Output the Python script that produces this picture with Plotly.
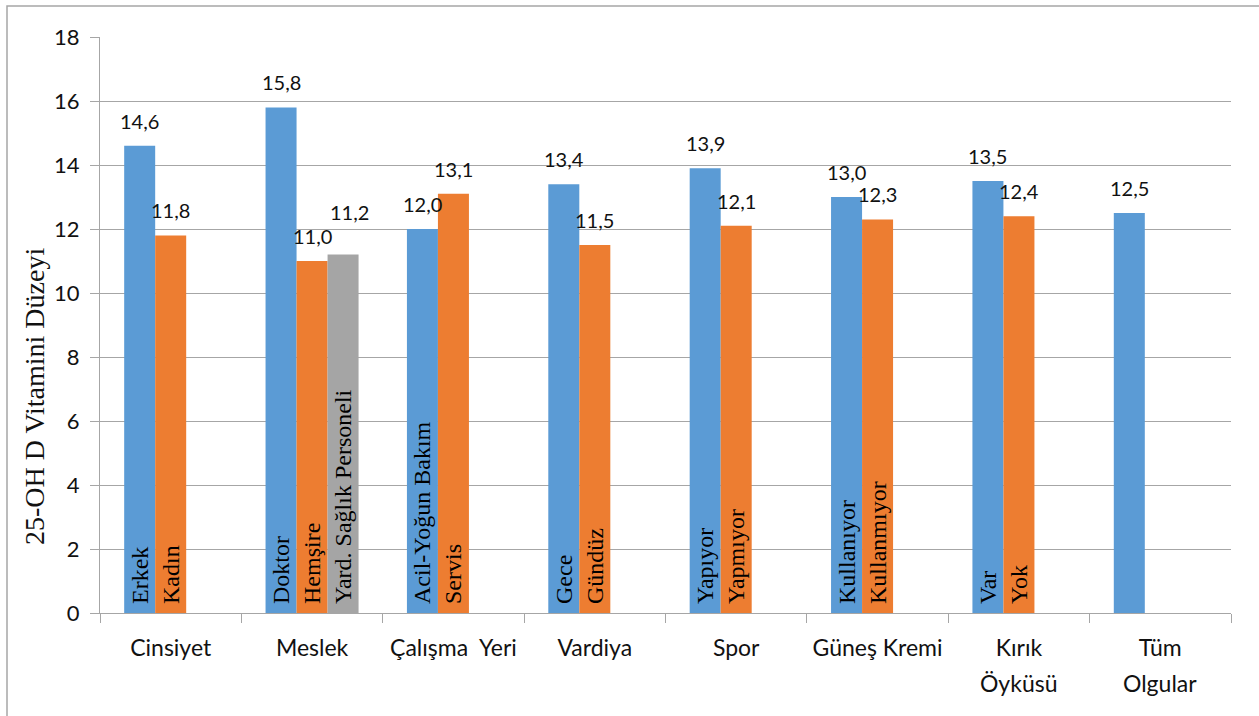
import plotly.graph_objects as go

categories = ["Cinsiyet", "Meslek", "Çalışma  Yeri", "Vardiya", "Spor",
              "Güneş Kremi", "Kırık\nÖyküsü", "Tüm\nOlgular"]

blue_values = [14.6, 15.8, 12.0, 13.4, 13.9, 13.0, 13.5, 12.5]
blue_names = ["Erkek", "Doktor", "Acil-Yoğun Bakım", "Gece", "Yapıyor",
              "Kullanıyor", "Var", ""]

orange_values = [11.8, 11.0, 13.1, 11.5, 12.1, 12.3, 12.4, None]
orange_names = ["Kadın", "Hemşire", "Servis", "Gündüz", "Yapmıyor",
                "Kullanmıyor", "Yok", ""]

gray_values = [None, 11.2, None, None, None, None, None, None]
gray_names = ["", "Yard. Sağlık Personeli", "", "", "", "", "", ""]

y_ticks = [0, 2, 4, 6, 8, 10, 12, 14, 16, 18]
y_title = "25-OH D Vitamini Düzeyi"

W, H = 1259, 716
ML, MR, MT, MB = 100, 28, 37, 103
BARGAP = 0.342

SANS = "Lato, Carlito, Calibri, sans-serif"
SERIF = "Liberation Serif, Times New Roman, serif"

x_keys = [c.replace("\n", " ") for c in categories]
first_lines = [c.split("\n")[0].replace("  ", "\u00a0\u00a0") for c in categories]

colors = ["#5B9BD5", "#ED7D31", "#A5A5A5"]
series = [(blue_values, blue_names), (orange_values, orange_names),
          (gray_values, gray_names)]

# label nudges (pixels) for labels moved to avoid overlap, as in the original
label_nudge = {(2, 1): (6, 18)}

fig = go.Figure()
pad = "\u00a0"
for (vals, names), col in zip(series, colors):
    fig.add_trace(go.Bar(
        x=x_keys, y=vals, marker=dict(color=col, line=dict(width=0)),
        text=[(pad + n) if n else "" for n in names],
        textposition="inside", insidetextanchor="start", textangle=-90,
        textfont=dict(family=SERIF, size=24, color="black"),
        constraintext="none", cliponaxis=False, showlegend=False,
        hoverinfo="skip",
    ))

plot_w = W - ML - MR
plot_h = H - MT - MB
bar_px = plot_w / len(categories) * (1 - BARGAP) / 3

annotations = []
for si, (vals, _) in enumerate(series):
    for ci, (k, v) in enumerate(zip(x_keys, vals)):
        if v is None:
            continue
        dx, dy = label_nudge.get((si, ci), (0, 0))
        annotations.append(dict(
            x=k, y=v, xref="x", yref="y", text=f"{v:.1f}".replace(".", ","),
            showarrow=False, yanchor="middle",
            xshift=(si - 1) * bar_px + dx, yshift=25 + dy,
            font=dict(family=SANS, size=20, color="#111111")))

for k, c in zip(x_keys, categories):
    parts = c.split("\n")
    if len(parts) > 1:
        annotations.append(dict(
            x=k, y=0, xref="x", yref="y", text=parts[1], showarrow=False,
            yanchor="middle", yshift=-70,
            font=dict(family=SANS, size=23, color="#111111")))

annotations.append(dict(
    x=(34 - ML) / plot_w, y=(H - MB - 397) / plot_h, xref="paper",
    yref="paper", xanchor="center", yanchor="middle", text=y_title,
    textangle=-90, showarrow=False,
    font=dict(family=SERIF, size=28, color="#111111")))

grid = "#A6A6A6"
fig.update_layout(
    width=W, height=H, margin=dict(l=ML, r=MR, t=MT, b=MB),
    paper_bgcolor="white", plot_bgcolor="white",
    barmode="group", bargap=BARGAP, bargroupgap=0,
    separators=",.",
    annotations=annotations,
    shapes=[dict(type="rect", xref="paper", yref="paper",
                 x0=(7 - ML) / plot_w, x1=(W + 20 - ML) / plot_w,
                 y0=(H - MB - (H + 20)) / plot_h,
                 y1=(H - MB - 6) / plot_h,
                 line=dict(color="#A6A6A6", width=1.5), layer="below")],
    xaxis=dict(type="category", tickvals=x_keys, ticktext=first_lines,
               showline=True, linecolor=grid, linewidth=1.3,
               ticks="outside", tickson="boundaries", ticklen=9,
               tickcolor=grid, tickwidth=1.3, showgrid=False,
               ticklabelstandoff=14,
               tickfont=dict(family=SANS, size=23, color="#111111")),
    yaxis=dict(range=[0, 18], tickvals=y_ticks, showgrid=True,
               gridcolor=grid, gridwidth=1.3, zeroline=False,
               showline=True, linecolor=grid, linewidth=1.3,
               ticks="outside", ticklen=9, tickcolor=grid, tickwidth=1.3,
               ticklabelstandoff=6,
               tickfont=dict(family=SANS, size=22, color="#111111")),
)

fig.write_html("out.html", config={"displayModeBar": False},
               post_script="document.body.style.margin='0';")
